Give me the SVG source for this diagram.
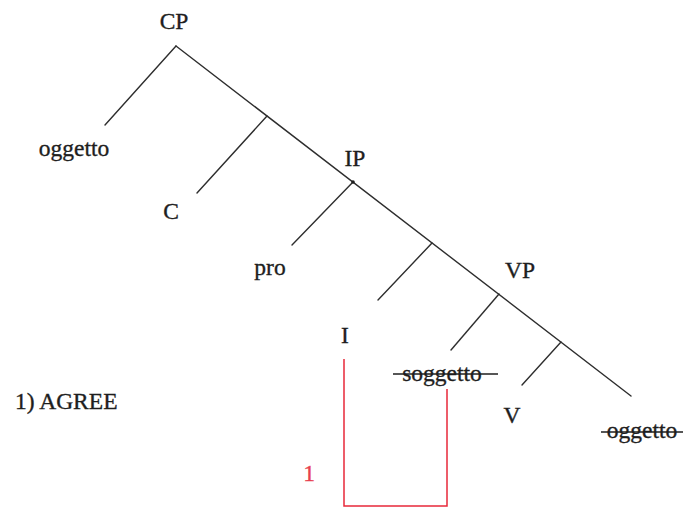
<svg xmlns="http://www.w3.org/2000/svg" width="684" height="508" viewBox="0 0 684 508">
<style>
.t{font-family:"Liberation Serif","Times New Roman",serif;font-size:23.5px;fill:#1e1e1e;stroke:#1e1e1e;stroke-width:0.35;text-anchor:middle}
.e{stroke:#2e2e2e;stroke-width:1.4;fill:none;stroke-linecap:round}
.s{stroke:#1e1e1e;stroke-width:1.5}
.r{stroke:#e8283a;stroke-width:1.5;fill:none}
</style>
<rect width="684" height="508" fill="#ffffff"/>
<g id="connectors">
<path class="e" d="M176,46 L631,396"/>
<path class="e" d="M176,46 L105,125"/>
<path class="e" d="M267,116 L197,193"/>
<path class="e" d="M353,182 L292,245"/>
<path class="e" d="M432,243 L378,300"/>
<path class="e" d="M499,294 L451,350"/>
<path class="e" d="M561,342 L522,385"/>
<circle cx="353" cy="182" r="1.8" fill="#1e1e1e"/>
</g>
<g id="node-CP"><text class="t" x="174" y="29">CP</text></g>
<g id="node-oggetto"><text class="t" x="74" y="156">oggetto</text></g>
<g id="node-C"><text class="t" x="171" y="219">C</text></g>
<g id="node-IP"><text class="t" x="355" y="166">IP</text></g>
<g id="node-pro"><text class="t" x="270" y="275">pro</text></g>
<g id="node-I"><text class="t" x="345" y="343">I</text></g>
<g id="node-VP"><text class="t" x="520" y="278">VP</text></g>
<g id="node-soggetto"><text class="t" x="442" y="381">soggetto</text><line class="s" x1="393" y1="374" x2="498" y2="374"/></g>
<g id="node-V"><text class="t" x="512" y="423">V</text></g>
<g id="node-oggetto2"><text class="t" x="642" y="438">oggetto</text><line class="s" x1="601" y1="432" x2="683" y2="432"/></g>
<g id="label-agree"><text class="t" x="15" y="409" style="text-anchor:start">1) AGREE</text></g>
<g id="agree-link">
<path class="r" d="M344,359 L344,506 L447,506 L447,389"/>
<text class="t" x="309" y="481" style="fill:#e8404f;stroke:#e8404f">1</text>
</g>
</svg>
